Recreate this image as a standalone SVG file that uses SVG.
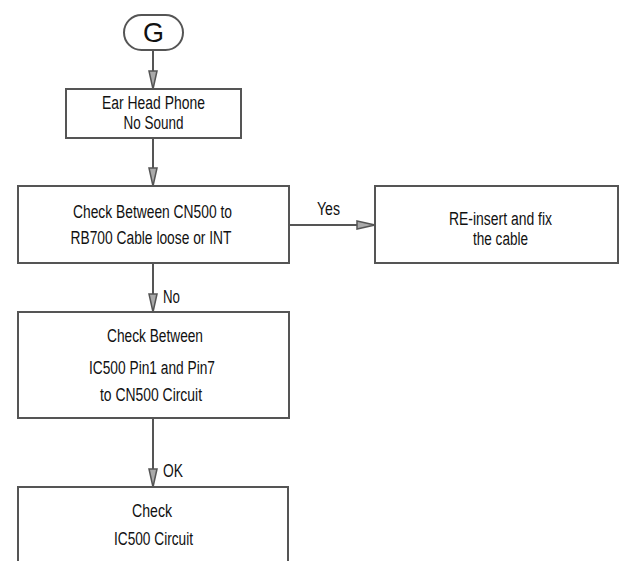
<svg xmlns="http://www.w3.org/2000/svg" width="620" height="561" viewBox="0 0 620 561">
<style>
.box{fill:#fff;stroke:#555;stroke-width:2}
.t{font-family:"Liberation Sans",Arial,sans-serif;font-size:18px;fill:#111;text-anchor:middle}
.l{font-family:"Liberation Sans",Arial,sans-serif;font-size:18px;fill:#111}
.c{stroke:#555;stroke-width:2;fill:none}
</style>
<defs>
<marker id="ah" viewBox="0 0 20 10" refX="19" refY="5" markerWidth="20" markerHeight="10" markerUnits="userSpaceOnUse" orient="auto">
<path d="M1,1 L19,5 L1,9 Z" fill="#aaa" stroke="#555" stroke-width="1.5"/>
</marker>
</defs>
<rect width="620" height="561" fill="#fff"/>
<g id="connectors">
<line class="c" x1="153" y1="50" x2="153" y2="89" marker-end="url(#ah)"/>
<line class="c" x1="153" y1="138" x2="153" y2="186" marker-end="url(#ah)"/>
<line class="c" x1="289" y1="225" x2="375" y2="225" marker-end="url(#ah)"/>
<line class="c" x1="153" y1="263" x2="153" y2="312" marker-end="url(#ah)"/>
<line class="c" x1="153" y1="418" x2="153" y2="487" marker-end="url(#ah)"/>
<text class="l" x="317" y="215" textLength="23" lengthAdjust="spacingAndGlyphs">Yes</text>
<text class="l" x="163" y="303" textLength="17" lengthAdjust="spacingAndGlyphs">No</text>
<text class="l" x="163" y="477" textLength="20" lengthAdjust="spacingAndGlyphs">OK</text>
</g>
<g id="start">
<rect class="box" x="124" y="15" width="59" height="35" rx="17.5"/>
<text class="t" x="153.5" y="42" style="font-size:28px" textLength="21" lengthAdjust="spacingAndGlyphs">G</text>
</g>
<g id="n1">
<rect class="box" x="66" y="89" width="175" height="49"/>
<text class="t" x="153.5" y="109" textLength="103" lengthAdjust="spacingAndGlyphs">Ear Head Phone</text>
<text class="t" x="153.5" y="129" textLength="60" lengthAdjust="spacingAndGlyphs">No Sound</text>
</g>
<g id="n2">
<rect class="box" x="18" y="186" width="271" height="77"/>
<text class="t" x="152.5" y="218" textLength="159" lengthAdjust="spacingAndGlyphs">Check Between CN500 to</text>
<text class="t" x="151" y="244" textLength="161" lengthAdjust="spacingAndGlyphs">RB700 Cable loose or INT</text>
</g>
<g id="n3">
<rect class="box" x="375" y="186" width="243" height="77"/>
<text class="t" x="500.5" y="225" textLength="103" lengthAdjust="spacingAndGlyphs">RE-insert and fix</text>
<text class="t" x="500.5" y="245" textLength="55" lengthAdjust="spacingAndGlyphs">the cable</text>
</g>
<g id="n4">
<rect class="box" x="18" y="312" width="271" height="106"/>
<text class="t" x="155" y="342" textLength="96" lengthAdjust="spacingAndGlyphs">Check Between</text>
<text class="t" x="152" y="374" textLength="126" lengthAdjust="spacingAndGlyphs">IC500 Pin1 and Pin7</text>
<text class="t" x="151" y="401" textLength="102" lengthAdjust="spacingAndGlyphs">to CN500 Circuit</text>
</g>
<g id="n5">
<rect class="box" x="18" y="487" width="270" height="100"/>
<text class="t" x="152" y="517" textLength="40" lengthAdjust="spacingAndGlyphs">Check</text>
<text class="t" x="153.5" y="545" textLength="79" lengthAdjust="spacingAndGlyphs">IC500 Circuit</text>
</g>
</svg>
